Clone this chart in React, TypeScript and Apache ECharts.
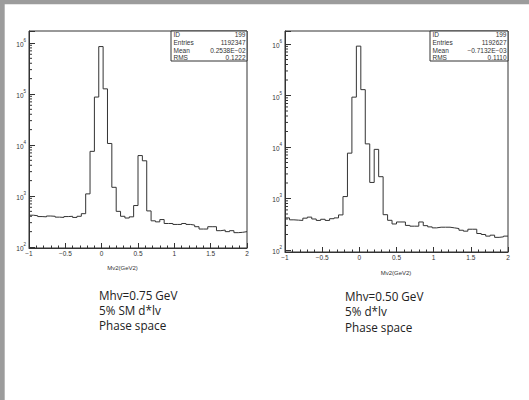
import React, { useEffect, useRef } from 'react';
import * as echarts from 'echarts';

// Histogram binning (50 bins from -1 to 2)
const BIN_MIN = -1;
const BIN_WIDTH = 0.06;

// Bin contents
const leftCounts = [
  420, 410, 395, 390, 405, 400, 385, 380, 395, 400,
  380, 400, 450, 1100, 7500, 87000, 850000, 126000, 10700, 1480,
  500, 400, 370, 390, 650, 6200, 4900, 510, 326, 311,
  345, 289, 289, 277, 277, 289, 277, 269, 250, 225,
  225, 250, 250, 209, 215, 200, 209, 191, 194, 200,
];
const rightCounts = [
  420, 385, 380, 375, 415, 435, 400, 375, 395, 375,
  405, 420, 480, 1090, 7600, 93000, 910000, 130000, 11500, 2050,
  9000, 2650, 485, 377, 320, 350, 350, 300, 290, 290,
  350, 297, 281, 269, 277, 277, 277, 269, 261, 242,
  232, 253, 253, 209, 200, 186, 194, 176, 180, 186,
];

const xTickValues = [-1, -0.5, 0, 0.5, 1, 1.5, 2];
const decades = [100, 1000, 10000, 100000, 1000000];
const minorFactors = [2, 3, 4, 5, 6, 7, 8, 9];

const leftStats = [
  ['ID', '199'],
  ['Entries', '1192347'],
  ['Mean', '0.2538E\u221202'],
  ['RMS', '0.1222'],
];
const rightStats = [
  ['ID', '199'],
  ['Entries', '1192627'],
  ['Mean', '\u22120.7132E\u221203'],
  ['RMS', '0.1110'],
];
const leftNotes = ['Mhv=0.75 GeV', '5% SM d*lv', 'Phase space'];
const rightNotes = ['Mhv=0.50 GeV', '5% d*lv', 'Phase space'];
const axisTitle = 'Mv2(GeV2)';

const LEFT_Y = [95.6, 1.716e6];
const RIGHT_Y = [91.4, 1.79e6];

const INK = '#333';
const SMALL_FONT = 'Liberation Sans';

function toSteps(counts: number[]) {
  const pts = counts.map((c, k) => [Math.round((BIN_MIN + k * BIN_WIDTH) * 1000) / 1000, c]);
  pts.push([Math.round((BIN_MIN + counts.length * BIN_WIDTH) * 1000) / 1000, counts[counts.length - 1]]);
  return pts;
}

function minorTicksIn(range: number[]) {
  const out: number[][] = [];
  decades.forEach((d) => {
    minorFactors.forEach((f) => {
      const v = d * f;
      if (v > range[0] && v < range[1]) out.push([-1, v]);
    });
  });
  return out;
}

const yLabelFormatter = (v: number) => {
  const e = Math.log10(v);
  const r = Math.round(e);
  if (Math.abs(e - r) > 1e-6) return '';
  return `{b|10}{s|${r}}`;
};

const xLabelFormatter = (v: number) => {
  if (!xTickValues.some((t) => Math.abs(t - v) < 1e-9)) return '';
  return String(v).replace('-', '\u2212');
};

function makeXAxis(gridIndex: number) {
  return {
    type: 'value',
    gridIndex,
    min: -1,
    max: 2,
    interval: 0.5,
    axisLine: { show: true, onZero: false, lineStyle: { color: INK, width: 1 } },
    axisTick: { show: true, inside: true, length: 5, lineStyle: { color: INK } },
    minorTick: { show: true, splitNumber: 5, length: 2.5, lineStyle: { color: INK } },
    splitLine: { show: false },
    minorSplitLine: { show: false },
    axisLabel: {
      formatter: xLabelFormatter,
      margin: 2,
      fontSize: 6.5,
      color: INK,
      fontFamily: SMALL_FONT,
      showMinLabel: true,
      showMaxLabel: true,
    },
  };
}

function makeYAxis(gridIndex: number, range: number[]) {
  return {
    type: 'log',
    logBase: 10,
    gridIndex,
    min: range[0],
    max: range[1],
    axisLine: { show: true, onZero: false, lineStyle: { color: INK, width: 1 } },
    axisTick: { show: true, inside: true, length: 6, lineStyle: { color: INK } },
    splitLine: { show: false },
    axisLabel: {
      formatter: yLabelFormatter,
      margin: 3,
      color: INK,
      fontFamily: SMALL_FONT,
      rich: {
        b: { fontSize: 6.5, lineHeight: 10, verticalAlign: 'bottom', color: INK, fontFamily: SMALL_FONT },
        s: { fontSize: 4.5, lineHeight: 10, verticalAlign: 'top', color: INK, fontFamily: SMALL_FONT },
      },
    },
  };
}

function minorTickSeries(gridIndex: number, range: number[]) {
  return {
    type: 'custom',
    xAxisIndex: gridIndex,
    yAxisIndex: gridIndex,
    silent: true,
    data: minorTicksIn(range),
    renderItem: (params: any, api: any) => {
      const p = api.coord([api.value(0), api.value(1)]);
      return {
        type: 'line',
        shape: { x1: p[0], y1: p[1], x2: p[0] + 3, y2: p[1] },
        style: { stroke: INK, lineWidth: 1 },
      };
    },
  };
}

function statsBox(x: number, y: number, w: number, h: number, rows: string[][]) {
  const children: any[] = [
    { type: 'rect', shape: { x, y, width: w, height: h }, style: { fill: '#fff', stroke: INK, lineWidth: 1 } },
  ];
  const rowY = [34, 42, 50, 57.5];
  rows.forEach((r, i) => {
    children.push({
      type: 'text',
      x: x + 2.5,
      y: rowY[i],
      style: { text: r[0], fontSize: 6.5, fontFamily: SMALL_FONT, fill: INK, align: 'left', verticalAlign: 'middle' },
    });
    children.push({
      type: 'text',
      x: x + w - 1.5,
      y: rowY[i],
      style: { text: r[1], fontSize: 6.5, fontFamily: SMALL_FONT, fill: INK, align: 'right', verticalAlign: 'middle' },
    });
  });
  return { type: 'group', z: 100, children };
}

function notes(x: number, ys: number[], lines: string[]) {
  return lines.map((t, i) => ({
    type: 'text',
    x,
    y: ys[i],
    z: 100,
    style: { text: t, fontSize: 11.7, fontFamily: 'Open Sans', fill: '#222', align: 'left', verticalAlign: 'middle' },
  }));
}

export default function App() {
  const ref = useRef<HTMLDivElement>(null);
  useEffect(() => {
    if (!ref.current) return;
    const chart = echarts.init(ref.current, null, { renderer: 'svg' });
    chart.setOption({
      animation: false,
      backgroundColor: '#fff',
      grid: [
        { left: 29, top: 31, width: 218, height: 217, show: true, borderColor: INK, borderWidth: 1, backgroundColor: 'transparent' },
        { left: 285, top: 31, width: 223, height: 221, show: true, borderColor: INK, borderWidth: 1, backgroundColor: 'transparent' },
      ],
      xAxis: [makeXAxis(0), makeXAxis(1)],
      yAxis: [makeYAxis(0, LEFT_Y), makeYAxis(1, RIGHT_Y)],
      series: [
        {
          type: 'line',
          xAxisIndex: 0,
          yAxisIndex: 0,
          step: 'end',
          symbol: 'none',
          data: toSteps(leftCounts),
          lineStyle: { color: INK, width: 1 },
        },
        {
          type: 'line',
          xAxisIndex: 1,
          yAxisIndex: 1,
          step: 'end',
          symbol: 'none',
          data: toSteps(rightCounts),
          lineStyle: { color: INK, width: 1 },
        },
        minorTickSeries(0, LEFT_Y),
        minorTickSeries(1, RIGHT_Y),
      ],
      graphic: [
        { type: 'rect', z: 200, shape: { x: 0, y: 0, width: 529, height: 4.3 }, style: { fill: '#9c9c9c' } },
        { type: 'rect', z: 200, shape: { x: 0, y: 0, width: 4.7, height: 400 }, style: { fill: '#9c9c9c' } },
        statsBox(171, 31, 76, 30, leftStats),
        statsBox(430, 31, 78, 30, rightStats),
        {
          type: 'text', x: 122.5, y: 268, z: 100,
          style: { text: axisTitle, fontSize: 6, fontFamily: SMALL_FONT, fill: INK, align: 'center', verticalAlign: 'middle' },
        },
        {
          type: 'text', x: 396, y: 273, z: 100,
          style: { text: axisTitle, fontSize: 6, fontFamily: SMALL_FONT, fill: INK, align: 'center', verticalAlign: 'middle' },
        },
        ...notes(99, [294.8, 309.6, 324.6], leftNotes),
        ...notes(345, [296.3, 311.3, 326.5], rightNotes),
      ],
    });
    return () => chart.dispose();
  }, []);
  return <div ref={ref} style={{ position: 'absolute', left: 0, top: 0, width: 529, height: 400 }} />;
}
